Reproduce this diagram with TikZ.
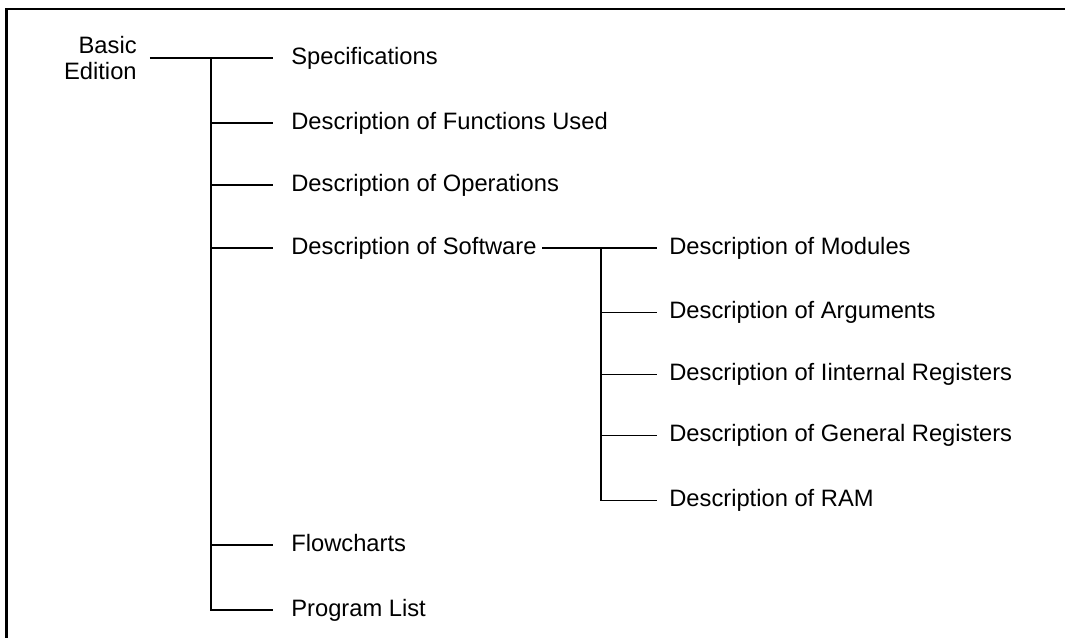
\documentclass[tikz,border=0pt]{standalone}
\usepackage{fontspec}
\setmainfont{Liberation Sans}
\begin{document}
\begin{tikzpicture}[x=0.02cm,y=-0.02cm,
  lbl/.style={inner sep=0pt,anchor=west,text height=0.72em,text depth=0pt,font=\fontsize{13.5}{15}\selectfont},
  branch/.style={line width=0.6pt,shorten >=0.36cm},
  subbranch/.style={line width=0.6pt,shorten >=0.25cm}]
\useasboundingbox (0,0) rectangle (1065,638);
% frame
\draw[line width=1.15pt] (6.5,640) -- (6.5,9) -- (1066,9);
% root
\node[inner sep=0pt,anchor=east,align=right,font=\fontsize{13.5}{14.8}\selectfont] (basic) at (137,58) {Basic\\Edition};
% first level
\node[lbl] (spec) at (291,58) {Specifications};
\node[lbl] (func) at (291,123) {Description of Functions Used};
\node[lbl] (ops) at (291,185) {Description of Operations};
\node[lbl] (soft) at (291,248) {Description of Software};
\node[lbl] (flow) at (291,545) {Flowcharts};
\node[lbl] (prog) at (291,610) {Program List};
% second level
\node[lbl] (mod) at (669,248) {Description of Modules};
\node[lbl] (arg) at (669,312.5) {Description of Arguments};
\node[lbl] (iint) at (669,374.5) {Description of Iinternal Registers};
\node[lbl] (gen) at (669,435.5) {Description of General Registers};
\node[lbl] (ram) at (669,500.5) {Description of RAM};
\coordinate (t0) at (211,58);
\coordinate (t1) at (601,248);
\draw[branch,shorten <=0.26cm] (basic.east) -- (spec.west);
\draw[branch] (t0) |- (prog.west);
\foreach \n in {func,ops,soft,flow}
  \draw[branch] (t0 |- \n.west) -- (\n.west);
\draw[subbranch,shorten <=0.11cm] (soft.east) -- (mod.west);
\draw[subbranch] (t1) |- (ram.west);
\foreach \n in {arg,iint,gen}
  \draw[subbranch] (t1 |- \n.west) -- (\n.west);
\end{tikzpicture}
\end{document}
